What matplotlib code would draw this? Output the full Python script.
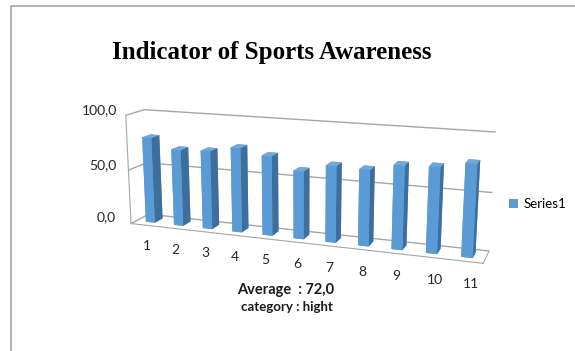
import numpy as np
import matplotlib
matplotlib.use("Agg")
import matplotlib.pyplot as plt
from matplotlib.patches import Patch, Rectangle

# chart data
categories = ['1', '2', '3', '4', '5', '6', '7', '8', '9', '10', '11']
awareness = [79, 70, 71, 76, 71, 60, 67, 66, 72, 73, 78]
z_ticks = [0, 50, 100]
z_tick_labels = ['0,0', '50,0', '100,0']
series_name = 'Series1'
title = 'Indicator of Sports Awareness'
average_text = 'Average  : 72,0'
category_text = 'category : hight'

# Excel-like colours
front_col = '#5b9bd5'
top_col = '#6fa9dc'
side_col = '#3e6e9c'
edge_col = '#a6a6a6'

plt.rcParams['font.family'] = ['Lato', 'DejaVu Sans']

W, H = 575, 351
fig = plt.figure(figsize=(W / 100, H / 100), dpi=100)

# outer chart frame (only top and left edges are inside the picture)
fig.patches.append(Rectangle((11 / W, -0.1), 1.2, 1.1 - 6 / H, transform=fig.transFigure,
                             fill=False, edgecolor=edge_col, lw=1.2))

ax = fig.add_axes([0.139, 0.187, 0.76, 0.58], projection='3d')

n = len(awareness)
pos = np.arange(1, n + 1)
# faces per bar: -Z, +Z, -Y(front), +Y, -X, +X(right side)
face_colors = []
for _ in range(n):
    face_colors += [front_col, top_col, front_col, front_col, front_col, side_col]

bars = ax.bar3d(pos - 0.16, np.full(n, 0.3), np.zeros(n), 0.32, 0.45, awareness,
                color=face_colors, shade=False, edgecolor='none')
bars.set_clip_on(False)

ax.set_xlim(0.5, n + 0.5)
ax.set_ylim(0, 1)
ax.set_zlim(0, 100)
ax.set_box_aspect((11, 1.12, 3.45), zoom=1.87)
ax.view_init(elev=14, azim=-70)
ax.set_proj_type('persp', focal_length=0.8)

ax.set_xticks(pos, labels=categories, ha='left')
ax.set_yticks([])
ax.set_zticks(z_ticks, labels=z_tick_labels, va='baseline')
ax.zaxis.set_ticks_position('lower')
ax.tick_params(labelsize=10, colors='#262626')
ax.zaxis.set_tick_params(pad=-2)
ax.xaxis.set_tick_params(pad=2)

for axis in (ax.xaxis, ax.yaxis, ax.zaxis):
    axis.set_pane_color((1, 1, 1, 0))
    axis.pane.set_edgecolor(edge_col)
    axis.line.set_color(edge_col)
    axis._axinfo['tick']['inward_factor'] = 0
    axis._axinfo['tick']['outward_factor'] = 0
ax.xaxis._axinfo['grid']['linewidth'] = 0
ax.yaxis._axinfo['grid']['linewidth'] = 0
ax.zaxis._axinfo['grid']['color'] = edge_col
ax.zaxis._axinfo['grid']['linewidth'] = 1.0

fig.text(272 / W, 1 - 52 / H, title, ha='center', va='center',
         family='Liberation Serif', weight='bold', size=18, color='black')

fig.legend(handles=[Patch(facecolor=front_col)], labels=[series_name],
           loc='center left', bbox_to_anchor=(497 / W, 1 - 204 / H), frameon=False,
           handlelength=0.7, handleheight=0.7, handletextpad=0.4, fontsize=9.5)

fig.text(286 / W, 1 - 290 / H, average_text, ha='center', va='center',
         weight='bold', size=10.5, color='#1a1a1a')
fig.text(287 / W, 1 - 307 / H, category_text, ha='center', va='center',
         weight='bold', size=9.5, color='#1a1a1a')

fig.savefig('out.png', dpi=100)
